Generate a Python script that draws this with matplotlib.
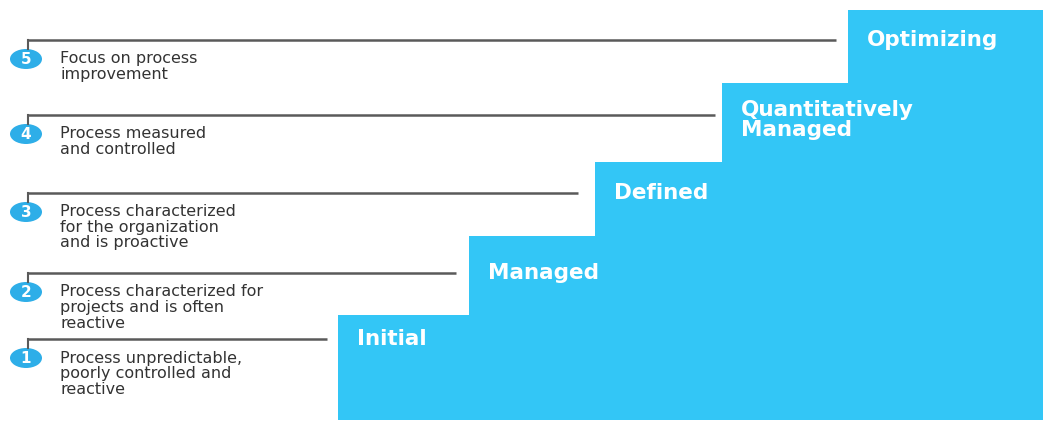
import matplotlib.pyplot as plt
from matplotlib.patches import Ellipse

# maturity levels, bottom step first
levels = [1, 2, 3, 4, 5]
level_names = ['Initial', 'Managed', 'Defined', 'Quantitatively\nManaged', 'Optimizing']
descriptions = [
    'Process unpredictable,\npoorly controlled and\nreactive',
    'Process characterized for\nprojects and is often\nreactive',
    'Process characterized\nfor the organization\nand is proactive',
    'Process measured\nand controlled',
    'Focus on process\nimprovement',
]

# staircase geometry (pixel space, y down)
step_left = [338, 469, 595, 722, 848]
step_right = 1043
step_top = [315, 236, 162, 83, 10]
step_bottom = 420
line_y = [339, 273, 193, 115, 40]
line_end = [327, 456, 578, 715, 836]

step_color = '#33c6f6'
badge_color = '#2eaee8'
line_color = '#5a5a5a'
text_color = '#333333'

fig = plt.figure(figsize=(10.48, 4.22), dpi=100)
ax = fig.add_axes([0, 0, 1, 1])
ax.set_xlim(0, 1048)
ax.set_ylim(422, 0)
ax.axis('off')

# *** STEPS ***
# each step is a bar from its top down to the floor, running to the right edge
ax.bar(step_left, [step_bottom - t for t in step_top], bottom=step_top,
       width=[step_right - x for x in step_left], align='edge',
       color=step_color, linewidth=0)

for i, name in enumerate(level_names):
    lines = name.split('\n')
    y0 = line_y[i] - 10.5 * (len(lines) - 1) + (5 if len(lines) > 1 else 0)
    for j, ln in enumerate(lines):
        ax.text(step_left[i] + 19, y0 + j * 21, ln, color='white',
                fontsize=15.5, fontweight='bold', family='DejaVu Sans',
                va='center', ha='left')

# *** LEADER LINES, BADGES, DESCRIPTIONS ***
for i, lvl in enumerate(levels):
    y = line_y[i]
    ax.plot([28, line_end[i]], [y, y], color=line_color, lw=1.8, solid_capstyle='butt')
    ax.plot([28, 28], [y, y + 9], color=line_color, lw=1.5)
    cy = y + 19
    ax.add_patch(Ellipse((26, cy), 32, 20, color=badge_color, lw=0))
    ax.text(26, cy + 0.5, str(lvl), color='white', fontsize=11, fontweight='bold',
            ha='center', va='center', family='DejaVu Sans')
    for j, ln in enumerate(descriptions[i].split('\n')):
        ax.text(60, cy + j * 15.5, ln, color=text_color, fontsize=11.5,
                ha='left', va='center', family='DejaVu Sans')

fig.savefig('out.png', dpi=100, facecolor='white')
